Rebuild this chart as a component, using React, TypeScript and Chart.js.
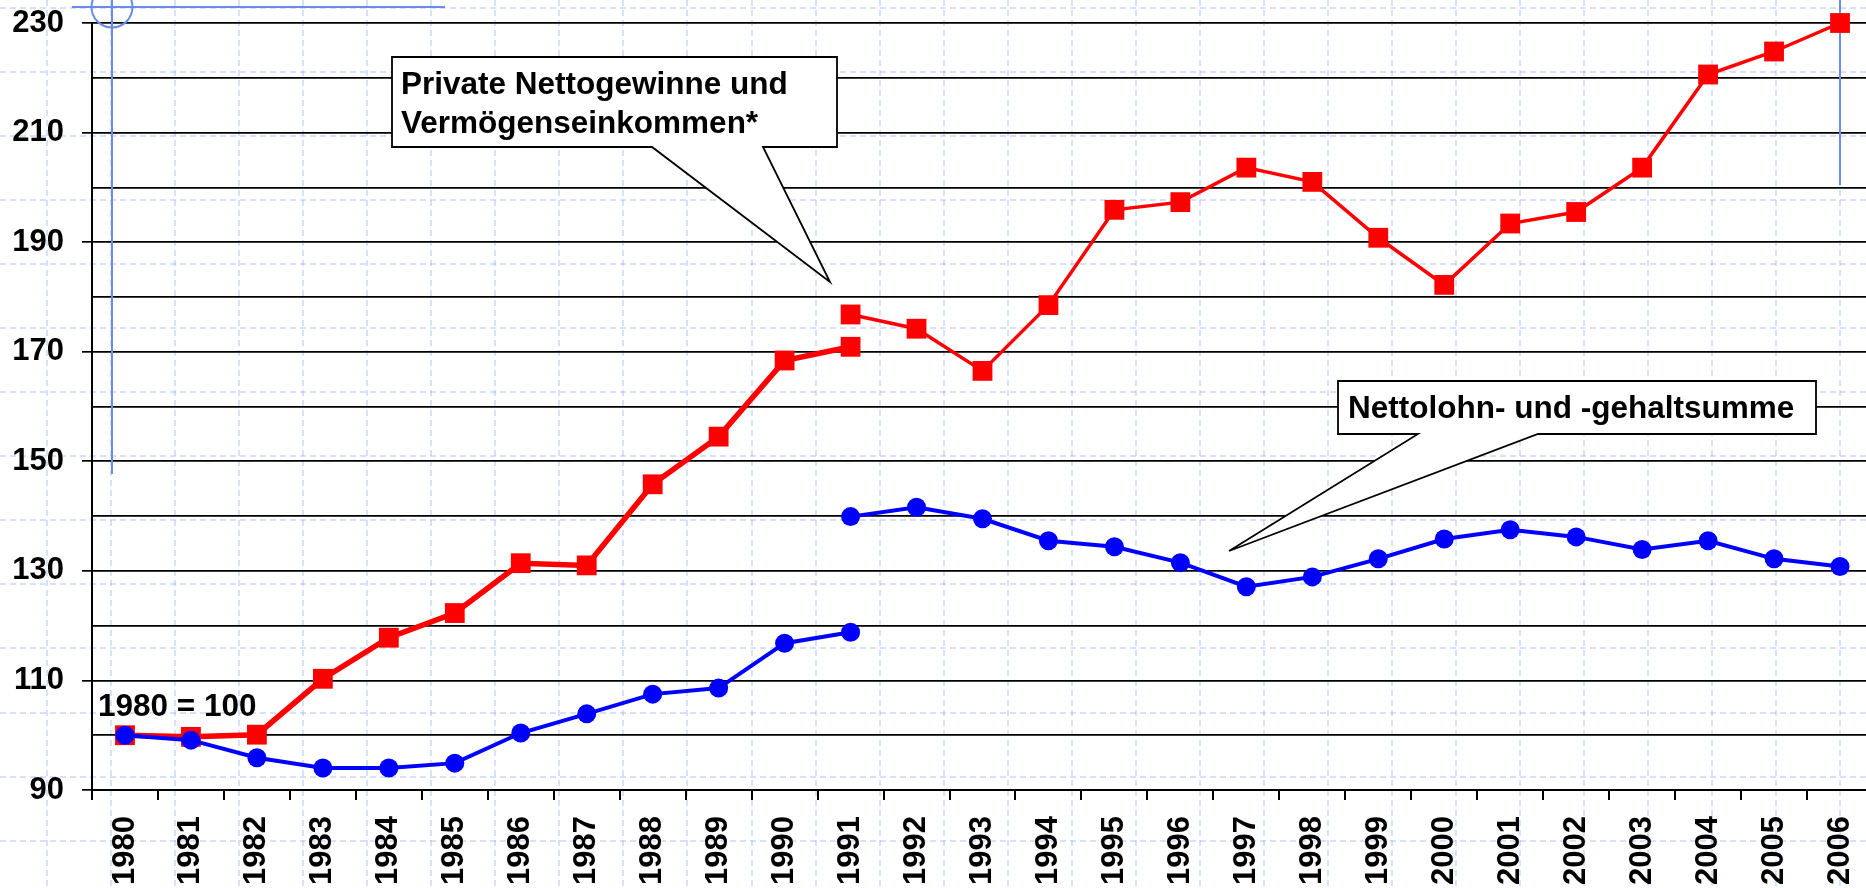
import React, { useEffect, useRef } from 'react';
import { Chart, registerables } from 'chart.js';

Chart.register(...registerables);

// ---------- data ----------
const years = [
  '1980', '1981', '1982', '1983', '1984', '1985', '1986', '1987', '1988', '1989',
  '1990', '1991', '1992', '1993', '1994', '1995', '1996', '1997', '1998', '1999',
  '2000', '2001', '2002', '2003', '2004', '2005', '2006',
];

// Private Nettogewinne und Vermögenseinkommen (West, 1980-1991)
const profitsWest = [100, 99.7, 100.1, 110.3, 117.8, 122.3, 131.4, 131.0, 145.8, 154.5, 168.4, 170.9];
// (Gesamtdeutschland, 1991-2006)
const profitsAll = [176.8, 174.2, 166.5, 178.5, 195.9, 197.3, 203.6, 201.0, 190.8, 182.2, 193.4, 195.5, 203.6, 220.6, 224.8, 230.0];

// Nettolohn- und -gehaltsumme (West, 1980-1991)
const wagesWest = [100, 99.1, 95.9, 94.0, 94.0, 94.9, 100.4, 103.9, 107.5, 108.6, 116.8, 118.8];
// (Gesamtdeutschland, 1991-2006)
const wagesAll = [139.9, 141.6, 139.5, 135.5, 134.4, 131.5, 127.1, 128.9, 132.2, 135.8, 137.5, 136.2, 133.9, 135.5, 132.2, 130.8];

const yLabelValues = [90, 110, 130, 150, 170, 190, 210, 230];

const profitsLabel = ['Private Nettogewinne und', 'Vermögenseinkommen*'];
const wagesLabel = 'Nettolohn- und -gehaltsumme';
const baseLabel = '1980 = 100';

// ---------- layout / style ----------
const W = 1874;
const H = 888;
const FONT = "'Liberation Sans', Arial, Helvetica, sans-serif";
const RED = '#FF0000';
const BLUE = '#0000FF';
const GUIDE = 'rgb(105,140,235)';

const westCount = profitsWest.length; // 12 (1980..1991)
const allStart = westCount - 1; // 1991 index

const pad = (vals: number[], before: number, total: number) => {
  const out: (number | null)[] = [];
  for (let i = 0; i < before; i++) out.push(null);
  vals.forEach((v) => out.push(v));
  while (out.length < total) out.push(null);
  return out;
};

const bgGridPlugin = {
  id: 'bgGrid',
  beforeDraw(chart: any) {
    const { ctx, width, height } = chart;
    ctx.save();
    ctx.fillStyle = '#ffffff';
    ctx.fillRect(0, 0, width, height);
    ctx.strokeStyle = 'rgba(150,175,240,0.38)';
    ctx.lineWidth = 2;
    ctx.setLineDash([6, 4]);
    const step = 64.05;
    for (let x = 47; x < width; x += step) {
      ctx.beginPath();
      ctx.moveTo(Math.round(x), 0);
      ctx.lineTo(Math.round(x), height);
      ctx.stroke();
    }
    for (let y = 8; y < height; y += step) {
      ctx.beginPath();
      ctx.moveTo(0, Math.round(y));
      ctx.lineTo(width, Math.round(y));
      ctx.stroke();
    }
    ctx.restore();
  },
};

const guidesPlugin = {
  id: 'guides',
  beforeDatasetsDraw(chart: any) {
    const { ctx } = chart;
    ctx.save();
    ctx.strokeStyle = GUIDE;
    ctx.lineWidth = 2;
    ctx.beginPath();
    ctx.moveTo(72, 7);
    ctx.lineTo(445, 7);
    ctx.moveTo(112, 0);
    ctx.lineTo(112, 474);
    ctx.moveTo(1840, 0);
    ctx.lineTo(1840, 185);
    ctx.stroke();
    ctx.beginPath();
    ctx.arc(112, 7, 20.5, 0, Math.PI * 2);
    ctx.stroke();
    ctx.restore();
  },
};

type Callout = {
  box: [number, number, number, number]; // left, top, right, bottom
  base: [number, number];
  tip: [number, number];
  lines: string[];
  textX: number;
  baselines: number[];
};

const callouts: Callout[] = [
  {
    box: [392, 57, 837, 147],
    base: [652, 763],
    tip: [830, 282],
    lines: profitsLabel,
    textX: 401,
    baselines: [94, 133],
  },
  {
    box: [1338, 381, 1816, 434],
    base: [1418, 1538],
    tip: [1229, 551],
    lines: [wagesLabel],
    textX: 1348,
    baselines: [418],
  },
];

const calloutPlugin = {
  id: 'callouts',
  afterDatasetsDraw(chart: any) {
    const { ctx } = chart;
    ctx.save();
    callouts.forEach((c) => {
      const [l, t, r, b] = c.box;
      ctx.beginPath();
      ctx.moveTo(l, t);
      ctx.lineTo(r, t);
      ctx.lineTo(r, b);
      ctx.lineTo(c.base[1], b);
      ctx.lineTo(c.tip[0], c.tip[1]);
      ctx.lineTo(c.base[0], b);
      ctx.lineTo(l, b);
      ctx.closePath();
      ctx.fillStyle = '#ffffff';
      ctx.fill();
      ctx.strokeStyle = '#000';
      ctx.lineWidth = 1.8;
      ctx.lineJoin = 'miter';
      ctx.stroke();
      ctx.fillStyle = '#000';
      ctx.font = `bold 31.5px ${FONT}`;
      ctx.textAlign = 'left';
      ctx.textBaseline = 'alphabetic';
      c.lines.forEach((ln, i) => ctx.fillText(ln, c.textX, c.baselines[i]));
    });
    // base label
    ctx.fillStyle = '#000';
    ctx.font = `bold 31.5px ${FONT}`;
    ctx.textAlign = 'left';
    ctx.textBaseline = 'alphabetic';
    ctx.fillText(baseLabel, 98, 716);
    ctx.restore();
  },
};

export default function App() {
  const canvasRef = useRef<HTMLCanvasElement | null>(null);

  useEffect(() => {
    document.body.style.margin = '0';
    document.body.style.overflow = 'hidden';
    const canvas = canvasRef.current;
    if (!canvas) return;
    const n = years.length;
    const tickFont = { family: FONT, size: 31, weight: 'bold' as const };

    const chart = new Chart(canvas, {
      type: 'line',
      data: {
        labels: years,
        datasets: [
          {
            label: 'Nettolohn West',
            data: pad(wagesWest, 0, n),
            borderColor: BLUE,
            backgroundColor: BLUE,
            borderWidth: 4,
            pointStyle: 'circle',
            pointRadius: 9.5,
            pointBorderWidth: 0,
            pointBackgroundColor: BLUE,
            order: 0,
          },
          {
            label: 'Nettolohn Gesamt',
            data: pad(wagesAll, allStart, n),
            borderColor: BLUE,
            backgroundColor: BLUE,
            borderWidth: 4,
            pointStyle: 'circle',
            pointRadius: 9.5,
            pointBorderWidth: 0,
            pointBackgroundColor: BLUE,
            order: 0,
          },
          {
            label: 'Gewinne West',
            data: pad(profitsWest, 0, n),
            borderColor: RED,
            backgroundColor: RED,
            borderWidth: 5.5,
            pointStyle: 'rect',
            pointRadius: 14,
            pointBorderWidth: 0,
            pointBackgroundColor: RED,
            order: 1,
          },
          {
            label: 'Gewinne Gesamt',
            data: pad(profitsAll, allStart, n),
            borderColor: RED,
            backgroundColor: RED,
            borderWidth: 3.5,
            pointStyle: 'rect',
            pointRadius: 14,
            pointBorderWidth: 0,
            pointBackgroundColor: RED,
            order: 1,
          },
        ],
      },
      options: {
        responsive: false,
        animation: false,
        devicePixelRatio: 1,
        spanGaps: false,
        clip: false as any,
        layout: { autoPadding: false, padding: { top: 23, right: 1, left: 0, bottom: 0 } },
        plugins: {
          legend: { display: false },
          tooltip: { enabled: false },
        },
        elements: { line: { tension: 0 } },
        scales: {
          x: {
            type: 'category',
            offset: true,
            grid: {
              offset: true,
              drawOnChartArea: false,
              drawTicks: true,
              tickLength: 10,
              color: '#000',
              lineWidth: 2,
            },
            border: { display: true, color: '#000', width: 2 },
            ticks: {
              autoSkip: false,
              maxRotation: 90,
              minRotation: 90,
              padding: 16,
              color: '#000',
              font: tickFont,
            },
            afterFit: (s: any) => {
              s.height = 98;
              s.paddingLeft = 0;
              s.paddingRight = 0;
              s.paddingTop = 0;
              s.paddingBottom = 0;
            },
          },
          y: {
            min: 90,
            max: 230,
            ticks: {
              stepSize: 10,
              autoSkip: false,
              padding: 18,
              color: '#000',
              font: tickFont,
              callback: (v: any) => (yLabelValues.includes(Number(v)) ? String(v) : ''),
            },
            grid: {
              color: '#000',
              lineWidth: 1.7,
              tickLength: 10,
              tickColor: (ctx: any) =>
                ctx.tick && yLabelValues.includes(ctx.tick.value) ? '#000' : 'rgba(0,0,0,0)',
            },
            border: { display: true, color: '#000', width: 2 },
            afterFit: (s: any) => {
              s.width = 92;
              s.paddingLeft = 0;
              s.paddingRight = 0;
              s.paddingTop = 0;
              s.paddingBottom = 0;
            },
          },
        },
      },
      plugins: [bgGridPlugin, guidesPlugin, calloutPlugin],
    } as any);

    return () => chart.destroy();
  }, []);

  return (
    <div style={{ width: W, height: H, overflow: 'hidden' }}>
      <canvas ref={canvasRef} width={W} height={H} style={{ display: 'block' }} />
    </div>
  );
}
